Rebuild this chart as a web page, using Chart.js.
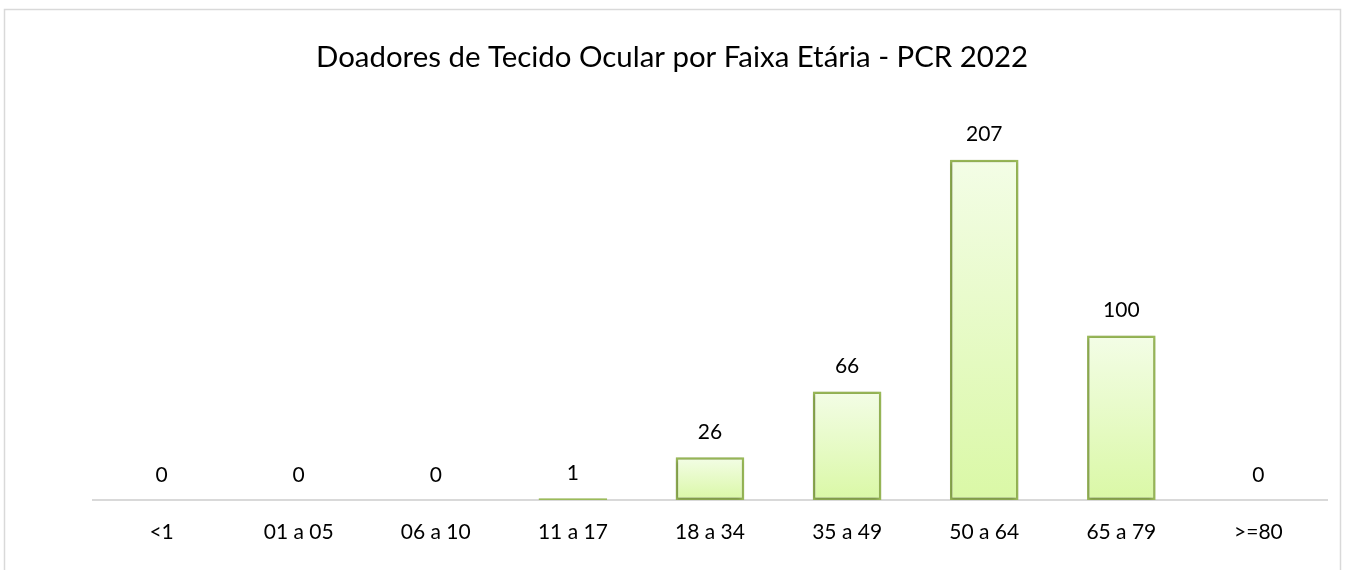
<!DOCTYPE html>
<html>
<head>
<meta charset="utf-8">
<script src="https://cdn.jsdelivr.net/npm/chart.js@4.4.0/dist/chart.umd.min.js"></script>
<style>
html,body{margin:0;padding:0;background:#fff;}
#wrap{position:relative;width:1351px;height:570px;}
</style>
</head>
<body>
<div id="wrap"><canvas id="c" width="1351" height="570"></canvas></div>
<script>
const titleText = 'Doadores de Tecido Ocular por Faixa Etária - PCR 2022';
const categories = ['<1', '01 a 05', '06 a 10', '11 a 17', '18 a 34', '35 a 49', '50 a 64', '65 a 79', '>=80'];
const donors = [0, 0, 0, 1, 26, 66, 207, 100, 0];
const axisMax = 250;

const FONT = 'Lato, "Open Sans", sans-serif';

function barGradient(ctx) {
  const chart = ctx.chart;
  const y = chart.scales && chart.scales.y;
  if (!chart.chartArea || !y) return '#e6f9c6';
  const top = y.getPixelForValue(ctx.raw);
  const bottom = y.getPixelForValue(0);
  if (!isFinite(top) || bottom - top < 1) return '#dcf8aa';
  const g = chart.ctx.createLinearGradient(0, top, 0, bottom);
  g.addColorStop(0, '#f3fde6');
  g.addColorStop(1, '#daf8a6');
  return g;
}

const framePlugin = {
  id: 'frame',
  beforeDraw(chart) {
    const c = chart.ctx;
    c.save();
    c.fillStyle = '#ffffff';
    c.fillRect(0, 0, chart.width, chart.height);
    c.strokeStyle = '#d9d9d9';
    c.lineWidth = 1.5;
    c.strokeRect(4.5, 9.5, 1336, 620);
    c.restore();
  }
};

const shadowPlugin = {
  id: 'barShadow',
  beforeDatasetsDraw(chart) {
    const c = chart.ctx;
    c.save();
    c.shadowColor = 'rgba(0,0,0,0.28)';
    c.shadowBlur = 4;
    c.shadowOffsetX = -1;
    c.shadowOffsetY = 1;
  },
  afterDatasetsDraw(chart) {
    chart.ctx.restore();
  }
};

const valueLabels = {
  id: 'valueLabels',
  afterDatasetsDraw(chart) {
    const c = chart.ctx;
    const meta = chart.getDatasetMeta(0);
    c.save();
    c.font = '21px ' + FONT;
    c.fillStyle = '#000000';
    c.textAlign = 'center';
    c.textBaseline = 'middle';
    meta.data.forEach((el, i) => {
      const v = chart.data.datasets[0].data[i];
      c.fillText(String(v), el.x, el.y - 25);
    });
    c.restore();
  }
};

new Chart(document.getElementById('c'), {
  type: 'bar',
  data: {
    labels: categories,
    datasets: [{
      label: 'Doadores',
      data: donors,
      backgroundColor: barGradient,
      borderColor: '#9bbb59',
      borderWidth: 2.5,
      borderSkipped: false,
      categoryPercentage: 1.0,
      barPercentage: 0.5
    }]
  },
  options: {
    responsive: false,
    animation: false,
    devicePixelRatio: 1,
    layout: { padding: { top: 9, left: 4, right: 11, bottom: 0 } },
    plugins: {
      legend: { display: false },
      tooltip: { enabled: false },
      title: {
        display: true,
        text: titleText,
        color: '#000000',
        font: { family: FONT, size: 29.4, weight: 'normal', lineHeight: 1.2 },
        padding: { top: 30.4, bottom: 14.3 }
      }
    },
    scales: {
      x: {
        grid: { display: false, drawTicks: false, tickLength: 0 },
        border: { display: true, color: '#d9d9d9', width: 2 },
        ticks: { color: '#000000', font: { family: FONT, size: 21 }, padding: 20, maxRotation: 0, autoSkip: false },
        afterFit(scale) { scale.height = 70; }
      },
      y: {
        min: 0,
        max: axisMax,
        display: true,
        grid: { display: false, drawTicks: false },
        border: { display: false },
        ticks: { display: false },
        afterFit(scale) { scale.width = 89; }
      },
      y2: {
        position: 'right',
        display: true,
        grid: { display: false, drawTicks: false },
        border: { display: false },
        ticks: { display: false },
        afterFit(scale) { scale.width = 13; }
      }
    }
  },
  plugins: [framePlugin, shadowPlugin, valueLabels]
});
</script>
</body>
</html>
